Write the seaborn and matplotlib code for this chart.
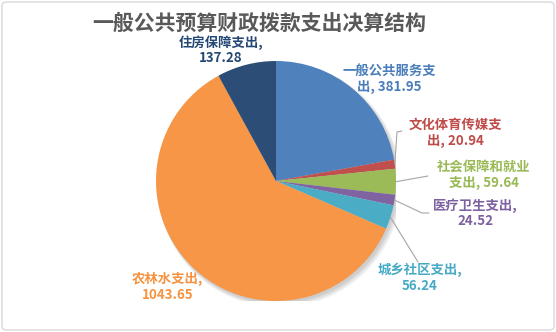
import matplotlib
matplotlib.use("Agg")
import matplotlib.pyplot as plt
import seaborn as sns
import numpy as np
from matplotlib.patches import FancyBboxPatch, Circle

sns.set_theme(style="white")
plt.rcParams['font.family'] = ['Noto Sans CJK SC', 'DejaVu Sans']

categories = ["一般公共服务支出", "文化体育传媒支出", "社会保障和就业支出", "医疗卫生支出",
              "城乡社区支出", "农林水支出", "住房保障支出"]
values = [381.95, 20.94, 59.64, 24.52, 56.24, 1043.65, 137.28]
label_texts = ["一般公共服务支\n出, 381.95", "文化体育传媒支\n出, 20.94", "社会保障和就业\n支出, 59.64",
               "医疗卫生支出,\n24.52", "城乡社区支出,\n56.24", "农林水支出,\n1043.65", "住房保障支出,\n137.28"]
slice_colors = ["#4F81BD", "#C0504D", "#9BBB59", "#8064A2", "#4BACC6", "#F79646", "#2C4D75"]
text_colors = ["#4A7EBB", "#BE4B48", "#98B954", "#7D60A0", "#46AAC5", "#F69240", "#254975"]

W, H = 556, 332
fig = plt.figure(figsize=(W / 100, H / 100), dpi=100)

def fpx(x, y):
    return (x / W, 1 - y / H)

# border
fig.patches.append(FancyBboxPatch((2 / W, 2 / H), 1 - 4 / W, 1 - 4 / H,
                                  boxstyle="round,pad=0,rounding_size=0.01",
                                  transform=fig.transFigure, fill=False,
                                  edgecolor="#D9D9D9", linewidth=1.0))

cx, cy, r = 276, 181, 120
ax = fig.add_axes([(cx - r) / W, (H - cy - r) / H, 2 * r / W, 2 * r / H])

# soft shadow
for i, a in enumerate([0.05, 0.05, 0.05, 0.05]):
    ax.add_patch(Circle((0.015 + 0.005 * i, -0.02 - 0.005 * i), 1.0 + 0.006 * i,
                        color="black", alpha=a, lw=0, zorder=0))

wedges, _ = ax.pie(values, colors=slice_colors, startangle=90, counterclock=False,
                   radius=1.0, wedgeprops=dict(linewidth=0))
ax.set_xlim(-1, 1)
ax.set_ylim(-1, 1)
ax.set_aspect("equal")
ax.axis("off")

fig.text(*fpx(259, 23), "一般公共预算财政拨款支出决算结构", ha="center", va="center",
         fontsize=15, color="#595959", fontweight="bold")

label_pos = [(389, 79), (455, 133), (484, 175), (475, 213), (420, 278), (168, 287), (221, 50)]
# leader line end points (pixels), None when no leader
leader_end = [None, [(397, 132), (402, 131)], [(428, 176)], [(422, 213), (429, 213)],
              [(418, 262)], None, None]

for i, w in enumerate(wedges):
    x, y = label_pos[i]
    fig.text(*fpx(x, y), label_texts[i], ha="center", va="center", fontsize=9.6,
             color=text_colors[i], fontweight="bold", linespacing=1.15)
    if leader_end[i] is not None:
        ang = np.deg2rad((w.theta1 + w.theta2) / 2)
        px = [cx + r * np.cos(ang)] + [p[0] for p in leader_end[i]]
        py = [cy - r * np.sin(ang)] + [p[1] for p in leader_end[i]]
        fig.add_artist(plt.Line2D([p / W for p in px], [1 - p / H for p in py],
                                  transform=fig.transFigure, color="#A6A6A6", lw=0.8))

fig.savefig("out.png", dpi=100)
